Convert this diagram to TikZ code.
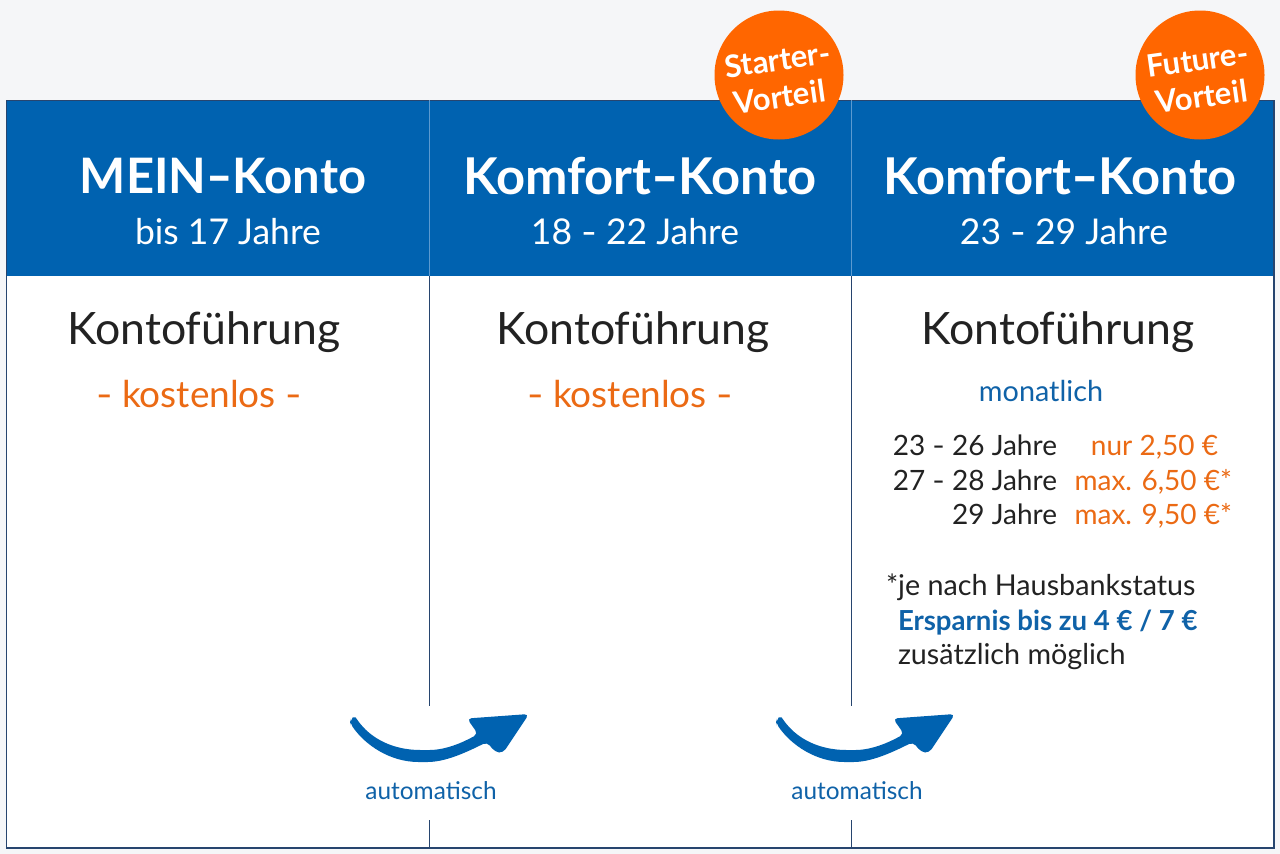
\documentclass[tikz,border=0pt]{standalone}
\usepackage{fontspec}
\setmainfont{Lato}
\definecolor{pagebg}{HTML}{F5F6F8}
\definecolor{headblue}{HTML}{0062B0}
\definecolor{headline}{HTML}{5C9AD0}
\definecolor{frameblue}{HTML}{27456F}
\definecolor{badge}{HTML}{FF6600}
\definecolor{orangetxt}{HTML}{EB6A14}
\definecolor{bluetxt}{HTML}{0F62A8}
\definecolor{inktxt}{HTML}{222222}
\newcommand{\wdash}{\scalebox{1.45}[1]{-}}
\newcommand{\sdash}{\scalebox{1.2}[1]{-}}
\tikzset{
  x=1pt,y=-1pt,
  txt/.style={inner sep=0pt,outer sep=0pt},
  titletxt/.style={txt,text=white,font=\fontsize{50.7}{50.7}\selectfont\bfseries},
  subtxt/.style={txt,text=white,font=\fontsize{35.5}{35.5}\selectfont},
  kontotxt/.style={txt,text=inktxt,font=\fontsize{44.6}{44.6}\selectfont},
  freetxt/.style={txt,text=orangetxt,font=\fontsize{37}{37}\selectfont},
  rowtxt/.style={txt,text=inktxt,font=\fontsize{28}{28}\selectfont},
  notetxt/.style={txt,text=inktxt,font=\fontsize{28.7}{28.7}\selectfont},
  feetxt/.style={txt,text=orangetxt,font=\fontsize{28}{28}\selectfont},
  autotxt/.style={txt,text=bluetxt,font=\fontsize{24.4}{24.4}\selectfont},
  badgecircle/.style={circle,fill=badge,minimum size=129pt,inner sep=0pt},
  badgetxt/.style={txt,text=white,rotate=8,align=center,font=\fontsize{31}{37}\selectfont\bfseries},
  framestroke/.style={draw=frameblue,line width=1.4pt},
  arrowshape/.pic={
    \fill[headblue,rounded corners=4.5pt] (350,721)
      .. controls (353,717) and (356,718) .. (358,721)
      .. controls (372,738) and (392,750) .. (425,750)
      .. controls (445,750) and (462,743) .. (478,734)
      [rounded corners=4.5pt] -- (467,718.5) -- (529,714) -- (503,753) -- (495,752) -- (487,742)
      .. controls (465,753) and (445,762) .. (423,762)
      .. controls (390,762) and (365,745) .. (350,723) -- cycle;
  },
}
\begin{document}
\begin{tikzpicture}
\useasboundingbox (0,0) rectangle (1280,854);
\fill[pagebg] (0,0) rectangle (1280,854);
\fill[white] (6,100) rectangle (1274,848);
\fill[headblue] (6,100) rectangle (1274,276);

\coordinate (frameNW) at (6.5,100.5);
\coordinate (frameNE) at (1274,100.5);
\coordinate (frameSW) at (6.5,848);
\coordinate (frameSE) at (1274,848);
\draw[framestroke] (frameNW) -- (frameNE) -- (frameSE) -- (frameSW) -- cycle;

\coordinate (d1top) at (429.5,100);
\coordinate (d1head) at (429.5,276);
\coordinate (d1gapA) at (429.5,706);
\coordinate (d1gapB) at (429.5,820);
\coordinate (d1bot) at (429.5,848);
\coordinate (d2top) at (851.5,100);
\coordinate (d2head) at (851.5,276);
\coordinate (d2gapA) at (851.5,706);
\coordinate (d2gapB) at (851.5,820);
\coordinate (d2bot) at (851.5,848);
\draw[headline,line width=1.2pt] (d1top) -- (d1head) (d2top) -- (d2head);
\draw[framestroke] (d1head) -- (d1gapA) (d1gapB) -- (d1bot);
\draw[framestroke] (d2head) -- (d2gapA) (d2gapB) -- (d2bot);

\node[badgecircle] (badgeA) at (779,75) {};
\node[badgecircle] (badgeB) at (1200,75) {};
\node[badgetxt] (badgeAtxt) at (780,78) {Starter-\\\hspace*{-6pt}Vorteil};
\node[badgetxt] (badgeBtxt) at (1200,78) {Future-\\\hspace*{-2pt}Vorteil};

\node[titletxt,font=\fontsize{48.9}{48.9}\selectfont\bfseries] (t1) at (223,176) {MEIN\wdash Konto};
\node[subtxt] (s1) at (228,232) {bis 17 Jahre};
\node[titletxt] (t2) at (640,176) {Komfort\wdash Konto};
\node[subtxt] (s2) at (635,232) {18 \sdash{} 22 Jahre};
\node[titletxt] (t3) at (1060,176) {Komfort\wdash Konto};
\node[subtxt] (s3) at (1064,232) {23 \sdash{} 29 Jahre};

\node[kontotxt] (k1) at (204,332) {Kontoführung};
\node[kontotxt] (k2) at (633,332) {Kontoführung};
\node[kontotxt] (k3) at (1058,332) {Kontoführung};
\node[freetxt] (f1) at (199,394) {\sdash{} kostenlos \sdash};
\node[freetxt] (f2) at (630,394) {\sdash{} kostenlos \sdash};
\node[txt,text=bluetxt,font=\fontsize{28.8}{28.8}\selectfont] (mon) at (1041,391) {monatlich};

\node[rowtxt,anchor=base east] (r1) at (1057,455) {23 \sdash{} 26 Jahre};
\node[rowtxt,anchor=base east] (r2) at (1057,490) {27 \sdash{} 28 Jahre};
\node[rowtxt,anchor=base east] (r3) at (1057,524) {29 Jahre};
\node[feetxt,anchor=base east] (p1) at (1218,455) {nur 2,50 €};
\node[feetxt,anchor=base east] (p2) at (1232,490) {max. 6,50 €*};
\node[feetxt,anchor=base east] (p3) at (1232,524) {max. 9,50 €*};

\node[notetxt,anchor=base west] (n1) at (886,595) {*je nach Hausbankstatus};
\node[txt,text=bluetxt,anchor=base west,font=\fontsize{27.6}{27.6}\selectfont\bfseries] (n2) at (898,630) {Ersparnis bis zu 4 € / 7 €};
\node[notetxt,anchor=base west] (n3) at (898,664) {zusätzlich möglich};

\pic at (0,0) {arrowshape};
\pic at (426,0) {arrowshape};
\node[autotxt] (a1) at (431,791) {automatisch};
\node[autotxt] (a2) at (857,791) {automatisch};
\end{tikzpicture}
\end{document}
